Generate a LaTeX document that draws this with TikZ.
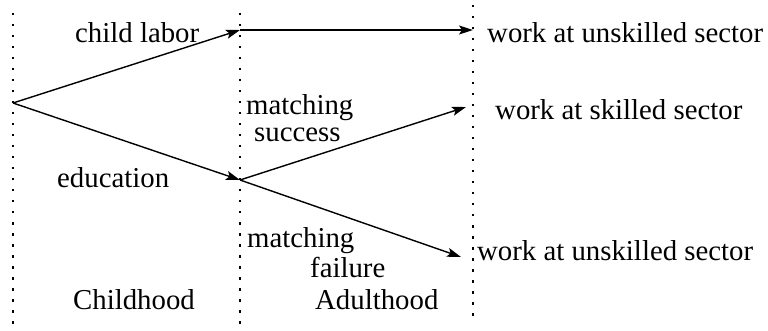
\documentclass[tikz,border=0pt]{standalone}
\usepackage{fontspec}
\setmainfont{Liberation Serif}
\newfontfamily\tfont{Liberation Serif}
\usetikzlibrary{arrows.meta}
\begin{document}
\begin{tikzpicture}[x=1pt,y=-1pt,
  guide/.style={line width=2pt,dash pattern=on 2.5pt off 8.5pt},
  flow/.style={line width=1.4pt,-{Stealth[length=14pt,width=9pt,inset=3pt]}},
  lbl/.style={inner sep=0pt,anchor=base west,font=\tfont\fontsize{28.8}{30}\selectfont}]
\useasboundingbox (0,0) rectangle (768,331);
% guide lines
\coordinate (g1t) at (13,13);  \coordinate (g1b) at (13,327);
\coordinate (g2t) at (240,13); \coordinate (g2b) at (240,327);
\coordinate (g3t) at (473,5);  \coordinate (g3b) at (473,322);
\draw[guide] (g1t) -- (g1b);
\draw[guide] (g2t) -- (g2b);
\draw[guide] (g3t) -- (g3b);
% branch points
\coordinate (O) at (13,103);
\coordinate (A) at (240,30);
\coordinate (B) at (240,180);
\coordinate (E1) at (473,30);
\coordinate (E2) at (466,107);
\coordinate (E3) at (461,257);
\draw[flow] (O) -- (A);
\draw[flow] (A) -- (E1);
\draw[flow] (O) -- (B);
\draw[flow] (B) -- (E2);
\draw[flow] (B) -- (E3);
% labels
\node[lbl] (cl) at (75,43) {child labor};
\node[lbl] (ed) at (57,188) {education};
\node[lbl] (ms1) at (246,115) {matching};
\node[lbl] (ms2) at (254,142) {success};
\node[lbl] (mf1) at (247,247) {matching};
\node[lbl] (mf2) at (310,277) {failure};
\node[lbl] (ch) at (73,309) {Childhood};
\node[lbl] (ad) at (315,309) {Adulthood};
\node[lbl] (w1) at (487,43) {work at unskilled sector};
\node[lbl] (w2) at (495,120) {work at skilled sector};
\node[lbl] (w3) at (477,260) {work at unskilled sector};
\end{tikzpicture}
\end{document}
